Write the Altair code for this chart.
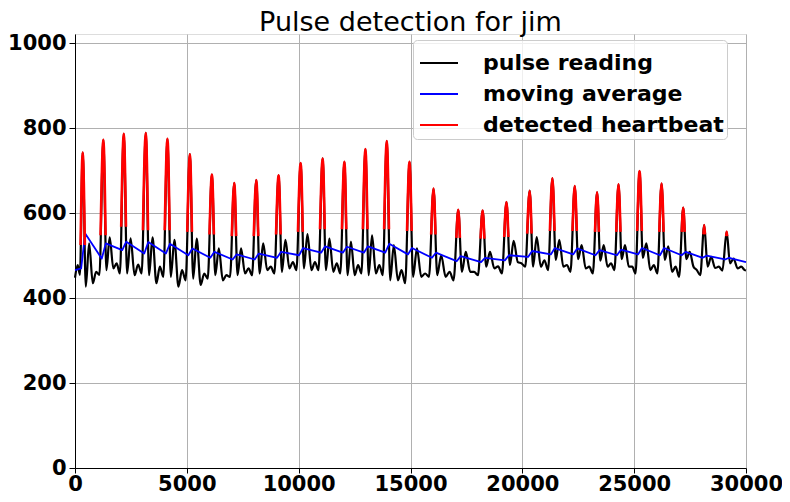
import altair as alt
import pandas as pd

# ---- values ----
# main pulse peaks (time in ms, reading)
peak_t = [345, 1267, 2181, 3166, 4133, 5136, 6121, 7119, 8104, 9103,
          10088, 11073, 12045, 12985, 13940, 14955, 16030, 17135, 18224, 19290,
          20328, 21344, 22343, 23342, 24300, 25240, 26225, 27192, 28132, 29135]
peak_v = [743, 773, 787, 789, 775, 739, 691, 671, 678, 689,
          718, 729, 721, 751, 770, 721, 658, 608, 606, 626,
          653, 682, 664, 649, 668, 699, 670, 613, 572, 556]
# secondary features of each beat
drop_v = [427, 466, 458, 454, 450, 446, 454, 454, 458, 462,
          470, 466, 454, 454, 442, 450, 454, 462, 474, 478,
          474, 490, 492, 488, 492, 495, 490, 492, 474, 482]
dicrotic_v = [529, 543, 541, 543, 537, 540, 517, 517, 529, 537,
              551, 540, 533, 548, 525, 517, 501, 509, 509, 535,
              544, 537, 525, 525, 525, 529, 522, 509, 497, 493]
dip_v = [435, 470, 454, 435, 427, 431, 442, 458, 466, 470,
         466, 462, 454, 458, 442, 450, 450, 462, 470, 485,
         474, 474, 470, 474, 474, 466, 462, 474, 471, 470]
bump_v = [462, 482, 479, 474, 466, 458, 454, 470, 474, 485,
          485, 482, 478, 478, 466, 458, 462, 462, 475, 482,
          489, 478, 474, 482, 474, 478, 474, 466, 474, 474]
trough_v = [455, 458, 458, 450, 442, 446, 450, 454, 458, 466,
            466, 458, 458, 454, 435, 450, 442, 454, 458, 474,
            466, 462, 458, 466, 458, 458, 450, 454, 465, 466]
start_t = [0, 120, 220]
start_v = [448, 478, 455]
end_t = 30000
end_v = 465

# moving average: level just before and just after each beat
ma_start = 466
ma_low = [470, 493, 513, 505, 505, 501, 495, 491, 491, 495,
          501, 507, 507, 507, 507, 503, 495, 487, 485, 489,
          497, 503, 503, 501, 501, 503, 501, 501, 495, 491]
ma_high = [552, 529, 533, 532, 528, 517, 509, 503, 505, 509,
           518, 522, 521, 522, 528, 518, 507, 499, 495, 501,
           511, 518, 517, 513, 514, 518, 518, 509, 500, 495]
ma_end = 485
red_offset = 55  # detection level above moving average

names = ["pulse reading", "moving average", "detected heartbeat"]

# ---- build tables ----
phase = [0.15, 0.31, 0.49, 0.65, 0.81]
ts, vs = list(start_t), list(start_v)
peak_idx = []
for i, (t0, pv) in enumerate(zip(peak_t, peak_v)):
    nxt = peak_t[i + 1] if i + 1 < len(peak_t) else t0 + 1000
    period = nxt - t0
    peak_idx.append(len(ts))
    ts.append(t0); vs.append(pv)
    for f, v in zip(phase, [drop_v[i], dicrotic_v[i], dip_v[i], bump_v[i], trough_v[i]]):
        ts.append(t0 + f * period); vs.append(v)
ts.append(end_t); vs.append(end_v)

rows = []
for t, v in zip(ts, vs):
    rows.append({"t": t, "v": v, "series": names[0], "beat": 0})

ma_rows = [(0, ma_start)]
for i, t0 in enumerate(peak_t):
    ma_rows.append((t0 - 70, ma_low[i]))
    ma_rows.append((t0 + 110, ma_high[i]))
ma_rows.append((end_t, ma_end))
for t, v in ma_rows:
    rows.append({"t": t, "v": v, "series": names[1], "beat": 0})

for i, k in enumerate(peak_idx):
    level = ma_low[i] + red_offset
    t0, pv = ts[k], vs[k]
    tp, vp = ts[k - 1], vs[k - 1]
    tn, vn = ts[k + 1], vs[k + 1]
    if pv <= level:
        continue
    t_up = tp + (level - vp) / (pv - vp) * (t0 - tp) if vp < level else tp
    t_dn = t0 + (pv - level) / (pv - vn) * (tn - t0) if vn < level else tn
    for t, v in [(t_up, max(level, vp)), (t0, pv), (t_dn, max(level, vn))]:
        rows.append({"t": t, "v": v, "series": names[2], "beat": i + 1})

df = pd.DataFrame(rows)

FONT = "DejaVu Sans"
xaxis = alt.Axis(values=[0, 5000, 10000, 15000, 20000, 25000, 30000], format="d",
                 title=None, labelFont=FONT, labelFontWeight="bold", labelFontSize=21,
                 labelColor="black", labelFlush=False, labelOverlap=False,
                 tickColor="black", tickSize=5, labelPadding=0,
                 domainColor="black", grid=True, gridColor="#b0b0b0", gridWidth=1)
yaxis = alt.Axis(values=[0, 200, 400, 600, 800, 1000], format="d",
                 title=None, labelFont=FONT, labelFontWeight="bold", labelFontSize=21,
                 labelColor="black", labelFlush=False, labelOverlap=False,
                 tickColor="black", tickSize=6, labelPadding=3,
                 domainColor="black", grid=True, gridColor="#b0b0b0", gridWidth=1)

x = alt.X("t:Q", scale=alt.Scale(domain=[0, 30000], nice=False, zero=False), axis=xaxis)
y = alt.Y("v:Q", scale=alt.Scale(domain=[0, 1022], nice=False), axis=yaxis)
color = alt.Color("series:N",
                  scale=alt.Scale(domain=names, range=["black", "blue", "red"]),
                  legend=alt.Legend(title=None, orient="none", legendX=338, legendY=6,
                                    symbolType="stroke", symbolSize=1444,
                                    symbolStrokeWidth=2, symbolOffset=3,
                                    labelFont=FONT,
                                    labelFontWeight="bold", labelFontSize=22,
                                    labelColor="black", labelLimit=400,
                                    labelOffset=24, padding=3, rowPadding=0,
                                    fillColor="rgba(255,255,255,0.8)",
                                    strokeColor="#cccccc", cornerRadius=4))

base = alt.Chart(df)
pulse = base.transform_filter(alt.datum.series == names[0]).mark_line(
    strokeWidth=2.2, strokeJoin="round", interpolate="monotone").encode(
    x=x, y=y, color=color, order="t:Q")
mavg = base.transform_filter(alt.datum.series == names[1]).mark_line(
    strokeWidth=1.8, strokeJoin="round").encode(x=x, y=y, color=color, order="t:Q")
red = base.transform_filter(alt.datum.series == names[2]).mark_line(
    strokeWidth=2.6, strokeJoin="round", interpolate="monotone").encode(
    x=x, y=y, color=color, detail="beat:N", order="t:Q")

chart = alt.layer(pulse, mavg, red).properties(
    width=671, height=434,
    title=alt.Title("Pulse detection for jim", font=FONT, fontSize=27,
                    fontWeight="normal", color="black", anchor="middle", offset=-5),
    padding={"left": 67, "top": 26, "right": 36, "bottom": 26},
    autosize=alt.AutoSizeParams(type="none"),
).configure_view(stroke="black", strokeWidth=1).configure(background="white")

chart.save("out.html", embed_options={"renderer": "svg", "actions": False})
